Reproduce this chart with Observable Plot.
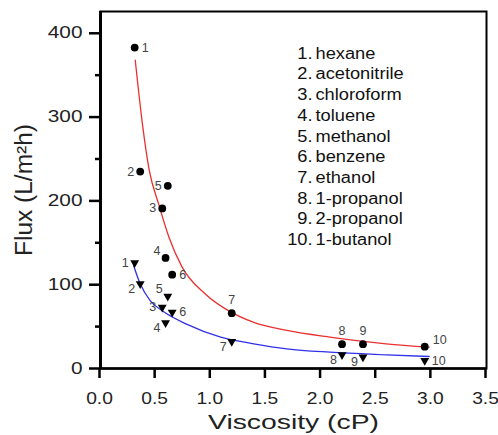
<!DOCTYPE html>
<html><head><meta charset="utf-8">
<script src="https://cdn.jsdelivr.net/npm/d3@7"></script>
<script src="https://cdn.jsdelivr.net/npm/@observablehq/plot@0.6"></script>
<style>body{margin:0;background:#fff}</style>
</head><body><div id="chart"></div>
<script>
// ---- data ----
const solvents = ["hexane","acetonitrile","chloroform","toluene","methanol","benzene","ethanol","1-propanol","2-propanol","1-butanol"];
const viscosity = [0.31, 0.36, 0.56, 0.59, 0.61, 0.65, 1.19, 2.19, 2.38, 2.94];
const fluxCircle = [383, 235, 191, 132, 218, 112, 66, 29, 29, 26];
const fluxTriangle = [126, 101, 73, 54.5, 86, 67, 32, 16.3, 13.5, 9.5];
const redFitX = [0.315, 0.38, 0.44, 0.53, 0.62, 0.74, 0.95, 1.16, 1.39, 1.69, 2.08, 2.59, 2.98];
const redFitY = [368, 292, 238, 195, 157, 121, 89, 69, 55, 45.5, 37.5, 29.5, 25.5];
const blueFitX = [0.30, 0.36, 0.45, 0.57, 0.78, 1.09, 1.39, 1.69, 2.08, 2.59, 2.98];
const blueFitY = [123, 101, 81, 68, 53, 37.5, 29.5, 23.5, 19.5, 16.3, 14.3];
const xTicks = [0, 0.5, 1, 1.5, 2, 2.5, 3, 3.5];
const yTicks = [0, 100, 200, 300, 400];
const yMinorTicks = [50, 150, 250, 350];
const xTitle = "Viscosity (cP)";
const yTitle = "Flux (L/m²h)";

// ---- label placement (layout) ----
const circleLabelSide = ["r","l","l","tl","l","r","t","t","t","tr"];
const triangleLabelSide = ["l","bl","l","bl","tl","r","bl","bl","bl","r"];
const sides = {
  r:  {dx: 7,  dy: 0,   textAnchor: "start"},
  l:  {dx: -6, dy: 0,   textAnchor: "end"},
  bl: {dx: -5, dy: 5,   textAnchor: "end"},
  tl: {dx: -5, dy: -7,  textAnchor: "end"},
  t:  {dx: 0,  dy: -13, textAnchor: "middle"},
  tr: {dx: 8,  dy: -7,  textAnchor: "start"}
};

const circles = solvents.map((s, i) => ({x: viscosity[i], y: fluxCircle[i], n: String(i + 1), side: circleLabelSide[i]}));
const triangles = solvents.map((s, i) => ({x: viscosity[i], y: fluxTriangle[i], n: String(i + 1), side: triangleLabelSide[i]}));
const redFit = redFitX.map((x, i) => ({x, y: redFitY[i]}));
const blueFit = blueFitX.map((x, i) => ({x, y: blueFitY[i]}));

const F = "Liberation Sans, Arial, sans-serif";
const legendNums = solvents.map((s, i) => `${i + 1}.`).join("\n");
const legendNames = solvents.join("\n");

function labelMarks(data) {
  return Object.entries(sides).map(([k, o]) =>
    Plot.text(data.filter(d => d.side === k), {
      x: "x", y: "y", text: "n", dx: o.dx, dy: o.dy, textAnchor: o.textAnchor,
      fontSize: 12.5, fontFamily: F, fill: "#444"
    }));
}

const chart = Plot.plot({
  width: 498, height: 435,
  marginLeft: 100, marginRight: 12, marginTop: 11, marginBottom: 67,
  x: {domain: [0, 3.5]},
  y: {domain: [0, 426]},
  style: {background: "#fff", color: "#000", fontFamily: F},
  marks: [
    Plot.line(redFit, {x: "x", y: "y", stroke: "#e8302f", strokeWidth: 1.3, curve: "monotone-x"}),
    Plot.line(blueFit, {x: "x", y: "y", stroke: "#3030e8", strokeWidth: 1.3, curve: "monotone-x"}),
    Plot.dot(circles, {x: "x", y: "y", r: 3.9, fill: "#000", symbol: "circle"}),
    Plot.dot(triangles, {x: "x", y: "y", r: 3.3, fill: "#000", symbol: "triangle", rotate: 180}),
    ...labelMarks(circles),
    ...labelMarks(triangles),
    Plot.frame({stroke: "#000", strokeWidth: 2}),
    Plot.ruleY([0], {stroke: "#000", strokeWidth: 2.6}),
    Plot.ruleX([0], {stroke: "#000", strokeWidth: 3}),
    Plot.axisX({ticks: xTicks, tickSize: 10, tickPadding: 14, strokeWidth: 2.5, tickFormat: d3.format(".1f"),
      fontSize: 16, fontFamily: F, fill: "#222", label: null, dx: -1}),
    Plot.axisY({ticks: yTicks, tickSize: 11, tickPadding: 7, strokeWidth: 2.5,
      fontSize: 16, fontFamily: F, fill: "#222", label: null}),
    Plot.axisY({ticks: yMinorTicks, tickSize: 5, strokeWidth: 2.5, tickFormat: () => "", label: null}),
    Plot.text([legendNums], {
      text: d => d, frameAnchor: "top-right", dx: -174, dy: 32.6, lineAnchor: "top",
      textAnchor: "end", lineHeight: 1.294, fontSize: 16, fontFamily: F, fill: "#111"}),
    Plot.text([legendNames], {
      text: d => d, frameAnchor: "top-right", dx: -171, dy: 32.6, lineAnchor: "top",
      textAnchor: "start", lineHeight: 1.294, fontSize: 16, fontFamily: F, fill: "#111"}),
    Plot.text([xTitle], {text: d => d, frameAnchor: "bottom", dy: 53.6, lineAnchor: "middle",
      fontSize: 21, fontFamily: F, fill: "#222"}),
    Plot.text([yTitle], {text: d => d, frameAnchor: "left", dx: -75.4, rotate: -90, lineAnchor: "middle",
      textAnchor: "middle", fontSize: 23, fontFamily: F, fill: "#222"})
  ]
});
document.getElementById("chart").appendChild(chart);

// The reference lettering is horizontally widened; reproduce that with textLength.
function stretch(el, k) {
  const len = el.getComputedTextLength();
  el.setAttribute("textLength", (len * k).toFixed(2));
  el.setAttribute("lengthAdjust", "spacingAndGlyphs");
}
const xTickStrings = new Set(xTicks.map(d3.format(".1f")));
const yTickStrings = new Set(yTicks.map(String));
chart.querySelectorAll("text").forEach(t => {
  const c = t.textContent;
  const spans = t.querySelectorAll("tspan");
  if (spans.length > 1) { spans.forEach(sp => stretch(sp, 1.14)); return; }
  if (c === xTitle) { t.setAttribute("textLength", 171); t.setAttribute("lengthAdjust", "spacingAndGlyphs"); }
  else if (c === yTitle) { t.setAttribute("textLength", 132); t.setAttribute("lengthAdjust", "spacingAndGlyphs"); }
  else if (xTickStrings.has(c) && t.closest('[aria-label^="x-axis"]')) stretch(t, 1.2);
  else if (yTickStrings.has(c) && t.closest('[aria-label^="y-axis"]')) stretch(t, 1.3);
});
</script>
</body></html>
